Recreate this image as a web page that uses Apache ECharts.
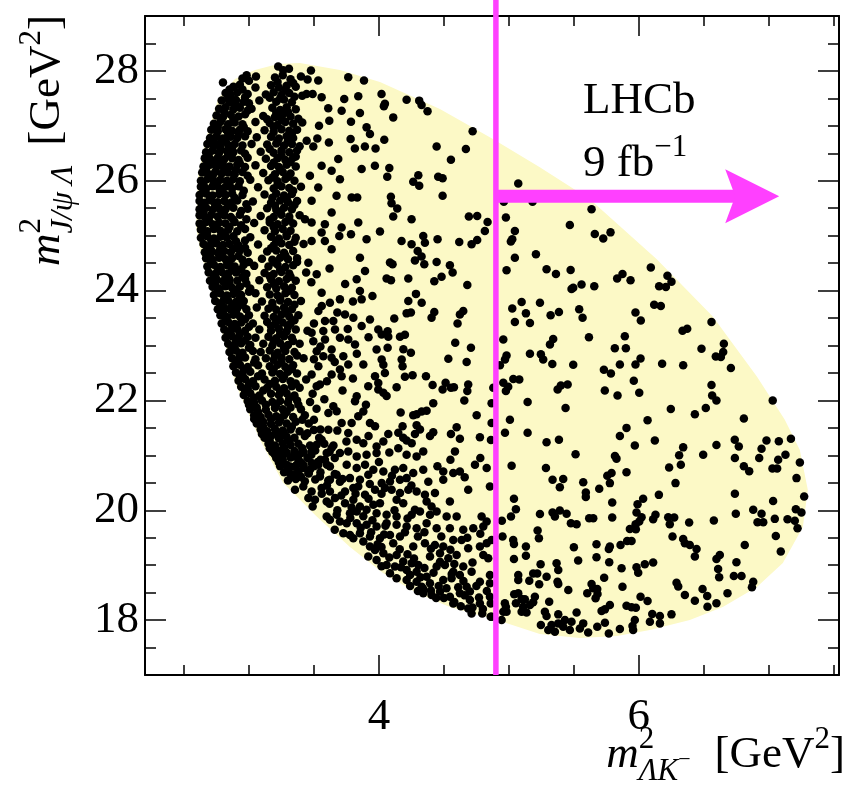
<!DOCTYPE html>
<html><head><meta charset="utf-8">
<script src="https://cdn.jsdelivr.net/npm/echarts@6/dist/echarts.min.js"></script>
<style>html,body{margin:0;padding:0;background:#fff}#main{width:855px;height:800px}</style>
</head><body><div id="main"></div>
<script>
const xRange=[2.2,7.54], yRange=[17,29];
const xMajorTicks=[4,6];
const xMinorTicks=[2.5,3,3.5,4.5,5,5.5,6.5,7,7.5];
const yMajorTicks=[18,20,22,24,26,28];
const yMinorTicks=[17.5,18.5,19,19.5,20.5,21,21.5,22.5,23,23.5,24.5,25,25.5,26.5,27,27.5,28.5];
const cutX=4.9, arrowY=25.72, arrowTipX=7.08;

const boundary=[[2.892,27.854],[3.046,28.018],[3.223,28.128],[3.392,28.146],[3.700,28.018],[4.008,27.799],[4.469,27.307],[4.877,26.759],[5.238,26.248],[5.623,25.664],[6.138,24.569],[6.569,23.529],[6.908,22.434],[7.123,21.650],[7.238,21.102],[7.300,20.372],[7.262,19.697],[7.108,19.040],[6.908,18.602],[6.646,18.237],[6.392,18.000],[6.085,17.818],[5.831,17.708],[5.546,17.672],[5.238,17.745],[4.908,18.000],[4.546,18.237],[4.292,18.493],[4.031,18.858],[3.777,19.332],[3.523,19.880],[3.262,20.500],[3.085,21.285],[2.892,22.325],[2.762,23.529],[2.623,24.752],[2.592,25.172],[2.608,26.084],[2.662,26.704],[2.762,27.489]];

const bandPts=[
[3.225,28.08],[3.264,28.01],[3.308,28.04],[2.982,27.92],[3.054,27.90],
[2.95,27.86],[3.00,27.82],[3.20,27.88],[3.26,27.92],[3.32,27.85],[3.40,27.90],
[2.88,27.71],[2.93,27.75],[3.05,27.70],[3.17,27.74],[3.23,27.70],[3.29,27.73],[3.36,27.71],
[2.82,27.60],[2.86,27.56],[2.91,27.61],[2.99,27.58],[3.13,27.57],[3.19,27.61],[3.25,27.56],[3.31,27.60],[3.41,27.55],
[2.79,27.46],[2.85,27.43],[2.90,27.47],[2.96,27.44],[3.08,27.46],[3.21,27.44],[3.27,27.48],[3.33,27.43],
[2.77,27.31],[2.82,27.34],[2.88,27.30],[2.93,27.33],[3.02,27.31],[3.18,27.33],[3.24,27.29],[3.29,27.34],[3.36,27.30],
[2.75,27.19],[2.80,27.16],[2.86,27.20],[2.92,27.17],[2.97,27.21],[3.11,27.18],[3.20,27.16],[3.26,27.20],[3.32,27.17],
[2.73,27.04],[2.78,27.07],[2.84,27.03],[2.89,27.06],[2.95,27.03],[3.05,27.07],[3.16,27.05],[3.22,27.02],[3.28,27.07],[3.34,27.04],[3.41,27.06],
[2.71,26.93],[2.76,26.90],[2.82,26.94],[2.87,26.91],[2.93,26.93],[2.99,26.90],[3.12,26.92],[3.19,26.89],[3.25,26.94],[3.31,26.91],[3.37,26.93],
[2.70,26.78],[2.75,26.81],[2.80,26.77],[2.86,26.80],[2.91,26.78],[2.97,26.81],[3.06,26.79],[3.17,26.80],[3.23,26.77],[3.29,26.81],[3.34,26.78],
[2.68,26.67],[2.73,26.64],[2.78,26.68],[2.84,26.65],[2.89,26.67],[2.95,26.64],[3.02,26.67],[3.14,26.66],[3.21,26.68],[3.27,26.64],[3.33,26.67],[3.39,26.63],
[2.67,26.52],[2.72,26.55],[2.77,26.51],[2.83,26.54],[2.88,26.52],[2.94,26.55],[3.09,26.53],[3.19,26.51],[3.25,26.55],[3.31,26.52],[3.37,26.55],
[2.66,26.41],[2.71,26.38],[2.76,26.42],[2.81,26.39],[2.87,26.41],[2.92,26.38],[2.99,26.42],[3.13,26.40],[3.22,26.41],[3.28,26.38],[3.34,26.42],
[2.65,26.26],[2.70,26.29],[2.75,26.25],[2.80,26.28],[2.85,26.26],[2.91,26.29],[2.97,26.25],[3.05,26.28],[3.17,26.27],[3.23,26.25],[3.29,26.29],[3.36,26.26],
[2.64,26.15],[2.69,26.12],[2.74,26.16],[2.79,26.13],[2.84,26.15],[2.89,26.12],[2.95,26.16],[3.11,26.14],[3.20,26.12],[3.26,26.16],[3.32,26.13],
[2.63,26.00],[2.68,26.03],[2.73,25.99],[2.78,26.02],[2.83,26.00],[2.88,26.03],[2.93,25.99],[3.01,26.02],[3.15,26.01],[3.22,25.99],[3.28,26.03],[3.35,26.00],
[2.63,25.89],[2.67,25.86],[2.72,25.90],[2.77,25.87],[2.82,25.89],[2.87,25.86],[2.92,25.90],[3.07,25.88],[3.19,25.86],[3.25,25.90],[3.31,25.87],[3.40,25.89],
[2.62,25.74],[2.67,25.77],[2.72,25.73],[2.77,25.76],[2.82,25.74],[2.87,25.77],[2.95,25.74],[3.12,25.75],[3.21,25.77],[3.27,25.73],[3.33,25.76],
[2.62,25.63],[2.66,25.60],[2.71,25.64],[2.76,25.61],[2.81,25.63],[2.86,25.60],[2.91,25.64],[3.03,25.62],[3.17,25.60],[3.24,25.64],[3.30,25.61],[3.37,25.63],
[2.62,25.48],[2.67,25.51],[2.72,25.47],[2.77,25.50],[2.82,25.48],[2.88,25.51],[2.99,25.49],[3.14,25.50],[3.21,25.47],[3.27,25.51],[3.33,25.48],
[2.62,25.37],[2.66,25.34],[2.71,25.38],[2.76,25.35],[2.81,25.37],[2.86,25.34],[2.93,25.38],[3.09,25.36],[3.19,25.34],[3.25,25.38],[3.31,25.35],[3.39,25.37],
[2.62,25.22],[2.67,25.25],[2.72,25.21],[2.77,25.24],[2.82,25.22],[2.89,25.25],[3.04,25.23],[3.16,25.24],[3.22,25.21],[3.28,25.25],[3.34,25.22],
[2.63,25.11],[2.68,25.08],[2.73,25.12],[2.78,25.09],[2.84,25.11],[2.91,25.08],[2.97,25.12],[3.12,25.10],[3.20,25.08],[3.26,25.12],[3.32,25.09],
[2.63,24.96],[2.68,24.99],[2.73,24.95],[2.78,24.98],[2.83,24.96],[2.88,24.99],[3.01,24.97],[3.17,24.98],[3.23,24.95],[3.29,24.99],[3.36,24.96],
[2.65,24.85],[2.70,24.82],[2.75,24.86],[2.80,24.83],[2.85,24.85],[2.92,24.82],[3.07,24.84],[3.19,24.82],[3.25,24.86],[3.31,24.83],[3.42,24.85],
[2.66,24.70],[2.71,24.73],[2.76,24.69],[2.81,24.72],[2.86,24.70],[2.93,24.73],[2.99,24.69],[3.14,24.71],[3.21,24.73],[3.27,24.69],[3.34,24.72],
[2.67,24.59],[2.72,24.56],[2.77,24.60],[2.82,24.57],[2.87,24.59],[2.95,24.56],[3.10,24.58],[3.18,24.56],[3.24,24.60],[3.30,24.57],[3.37,24.59],
[2.68,24.44],[2.73,24.47],[2.78,24.43],[2.83,24.46],[2.89,24.44],[2.96,24.47],[3.04,24.45],[3.15,24.44],[3.22,24.47],[3.28,24.43],[3.34,24.46],
[2.69,24.33],[2.74,24.30],[2.79,24.34],[2.84,24.31],[2.90,24.33],[2.98,24.30],[3.12,24.32],[3.19,24.30],[3.25,24.34],[3.31,24.31],[3.44,24.33],
[2.70,24.18],[2.75,24.21],[2.80,24.17],[2.85,24.20],[2.91,24.18],[2.97,24.21],[3.08,24.19],[3.17,24.20],[3.23,24.17],[3.29,24.21],[3.36,24.18],
[2.72,24.07],[2.77,24.04],[2.82,24.08],[2.87,24.05],[2.93,24.07],[3.01,24.04],[3.14,24.06],[3.21,24.04],[3.27,24.08],[3.33,24.05],
[2.73,23.92],[2.78,23.95],[2.83,23.91],[2.88,23.94],[2.94,23.92],[3.05,23.95],[3.16,23.93],[3.22,23.91],[3.28,23.95],[3.35,23.92],
[2.74,23.81],[2.79,23.78],[2.84,23.82],[2.90,23.79],[2.96,23.81],[3.10,23.80],[3.18,23.78],[3.24,23.82],[3.30,23.79],[3.40,23.81],
[2.76,23.66],[2.81,23.69],[2.86,23.65],[2.91,23.68],[2.98,23.66],[3.06,23.69],[3.15,23.67],[3.21,23.65],[3.27,23.69],[3.33,23.66],
[2.78,23.55],[2.83,23.52],[2.88,23.56],[2.93,23.53],[3.00,23.55],[3.12,23.54],[3.19,23.52],[3.25,23.56],[3.31,23.53],[3.38,23.55],
[2.79,23.40],[2.84,23.43],[2.89,23.39],[2.94,23.42],[3.03,23.40],[3.14,23.43],[3.20,23.39],[3.26,23.42],[3.32,23.40],
[2.81,23.29],[2.86,23.26],[2.91,23.30],[2.97,23.27],[3.08,23.29],[3.17,23.27],[3.23,23.30],[3.29,23.26],[3.36,23.29],[3.45,23.27],
[2.82,23.14],[2.87,23.17],[2.92,23.13],[2.99,23.16],[3.05,23.14],[3.15,23.16],[3.21,23.13],[3.27,23.17],[3.33,23.14],
[2.84,23.03],[2.89,23.00],[2.94,23.04],[3.01,23.01],[3.11,23.03],[3.18,23.00],[3.24,23.04],[3.30,23.01],[3.39,23.03],
[2.85,22.88],[2.90,22.91],[2.95,22.87],[3.03,22.90],[3.09,22.88],[3.16,22.91],[3.22,22.87],[3.28,22.90],[3.35,22.88],
[2.87,22.77],[2.92,22.74],[2.97,22.78],[3.05,22.75],[3.13,22.77],[3.19,22.74],[3.25,22.78],[3.31,22.75],[3.42,22.77],
[2.88,22.62],[2.93,22.65],[2.99,22.61],[3.07,22.64],[3.16,22.62],[3.22,22.65],[3.28,22.61],[3.34,22.64],
[2.90,22.51],[2.95,22.48],[3.01,22.52],[3.10,22.49],[3.18,22.51],[3.24,22.48],[3.30,22.52],[3.37,22.49],
[2.92,22.36],[2.97,22.39],[3.03,22.35],[3.12,22.38],[3.20,22.36],[3.26,22.39],[3.32,22.35],[3.44,22.38],
[2.94,22.25],[2.99,22.22],[3.05,22.26],[3.14,22.23],[3.21,22.25],[3.27,22.22],[3.33,22.26],[3.39,22.23],
[2.96,22.10],[3.01,22.13],[3.08,22.09],[3.17,22.12],[3.23,22.10],[3.29,22.13],[3.35,22.09],
[2.99,21.99],[3.04,21.96],[3.10,22.00],[3.18,21.97],[3.24,21.99],[3.30,21.96],[3.37,22.00],[3.47,21.97],
[3.01,21.84],[3.06,21.87],[3.13,21.83],[3.20,21.86],[3.26,21.84],[3.32,21.87],[3.40,21.84],
[3.04,21.73],[3.09,21.70],[3.15,21.74],[3.21,21.71],[3.27,21.73],[3.34,21.70],[3.43,21.73],
[3.06,21.58],[3.11,21.61],[3.17,21.57],[3.23,21.60],[3.29,21.58],[3.36,21.61],[3.46,21.58],
[3.09,21.47],[3.14,21.44],[3.20,21.48],[3.26,21.45],[3.32,21.47],[3.39,21.44],[3.50,21.46],
[3.12,21.32],[3.17,21.35],[3.23,21.31],[3.29,21.34],[3.35,21.32],[3.43,21.35],[3.54,21.32],
[3.15,21.21],[3.20,21.18],[3.26,21.22],[3.32,21.19],[3.38,21.21],[3.47,21.18],[3.58,21.21],
[3.18,21.06],[3.23,21.09],[3.29,21.05],[3.35,21.08],[3.42,21.06],[3.51,21.09],[3.62,21.06],
[3.21,20.95],[3.26,20.92],[3.32,20.96],[3.38,20.93],[3.45,20.95],[3.55,20.92],[3.66,20.95],
[3.24,20.80],[3.29,20.83],[3.35,20.79],[3.42,20.82],[3.50,20.80],[3.60,20.83],
[3.27,20.69],[3.32,20.66],[3.38,20.70],[3.46,20.67],[3.55,20.69],[3.66,20.66],
[3.30,20.54],[3.36,20.57],[3.43,20.53],[3.51,20.56],[3.61,20.54],[3.72,20.57]
];

const leftBandExtra=[
[2.80,27.79],[2.85,27.66],[2.95,27.66],[2.84,27.50],[2.97,27.52],[2.81,27.25],[2.90,27.39],[3.00,27.41],[2.79,27.12],[2.88,27.11],[2.99,27.28],[2.76,26.98],[2.84,26.86],[2.96,26.98],[2.73,26.72],[2.82,26.72],[2.92,26.85],[2.69,26.47],[2.78,26.59],[2.87,26.58],[2.97,26.49],[2.68,26.34],[2.76,26.33],[2.84,26.47],[2.93,26.32],[2.67,26.20],[2.72,26.08],[2.81,26.21],[2.90,26.20],[2.99,26.09],[2.65,25.94],[2.75,25.94],[2.85,25.95],[2.96,25.82],[2.65,25.80],[2.70,25.68],[2.79,25.81],[2.89,25.69],[2.98,25.57],[2.64,25.55],[2.74,25.56],[2.84,25.55],[2.94,25.45],[2.65,25.42],[2.69,25.30],[2.79,25.43],[2.88,25.29],[2.98,25.30],[2.64,25.17],[2.75,25.17],[2.85,25.16],[2.94,25.19],[2.66,25.03],[2.71,24.91],[2.81,25.03],[2.90,24.90],[2.97,24.91],[2.68,24.78],[2.78,24.77],[2.88,24.76],[2.97,24.78],[2.70,24.64],[2.79,24.65],[2.85,24.52],[2.92,24.63],[3.00,24.52],[2.71,24.51],[2.76,24.38],[2.87,24.38],[2.94,24.39],[2.73,24.25],[2.82,24.25],[2.95,24.25],[2.74,24.12],[2.85,24.12],[2.90,24.00],[2.98,24.13],[2.76,23.99],[2.81,23.86],[2.93,23.86],[3.00,23.98],[2.78,23.73],[2.87,23.72],[2.95,23.74],[2.80,23.60],[2.90,23.61],[2.97,23.48],[2.82,23.47],[2.87,23.35],[2.93,23.21],[3.00,23.34],[2.84,23.22],[2.90,23.08],[2.97,23.09],[2.87,22.96],[2.93,22.82],[3.00,22.96],[2.90,22.69],[2.96,22.56],[3.04,22.69],[2.93,22.43],[3.00,22.30],[3.07,22.44],[2.97,22.18],[3.04,22.05],[3.11,22.18],[3.00,21.92],[3.07,21.79],[3.13,21.92],[3.04,21.66],[3.11,21.52],[3.17,21.66],[3.10,21.39],[3.16,21.26],[3.21,21.40],[3.16,21.13],[3.21,21.00],[3.27,21.14],[3.23,20.87],[3.30,20.74],[3.33,20.61]
];

const midBandExtra=[
[3.22,27.80],[3.34,27.78],[3.28,27.65],[3.16,27.51],[3.24,27.50],[3.35,27.53],[3.21,27.24],[3.30,27.25],[3.14,27.12],[3.25,27.11],[3.38,27.13],[3.19,26.98],[3.33,26.86],[3.22,26.72],[3.30,26.73],[3.16,26.58],[3.36,26.44],[3.25,26.46],[3.19,26.33],[3.32,26.34],[3.24,26.21],[3.18,26.06],[3.30,26.07],[3.22,25.93],[3.34,25.82],[3.18,25.69],[3.29,25.68],[3.20,25.55],[3.35,25.56],[3.24,25.42],[3.16,25.29],[3.31,25.29],[3.19,25.16],[3.29,25.02],[3.21,24.90],[3.35,24.89],[3.17,24.77],[3.28,24.64],[3.20,24.51],[3.37,24.52],[3.24,24.38],[3.16,24.26],[3.32,24.25],[3.19,24.12],[3.30,23.99],[3.24,23.86],[3.35,23.74],[3.18,23.72],[3.28,23.60],[3.22,23.47],[3.35,23.46],[3.17,23.35],[3.30,23.34],[3.24,23.21],[3.19,23.08],[3.34,23.08],[3.27,22.95],[3.20,22.82],[3.37,22.82],[3.25,22.69],[3.19,22.56],[3.33,22.57],[3.27,22.44],[3.16,22.30],[3.36,22.31],[3.24,22.17],[3.31,22.04],[3.21,21.92],[3.38,21.92],[3.29,21.79],[3.24,21.66],[3.41,21.65],[3.33,21.52],[3.27,21.39],[3.45,21.40],[3.31,21.26],[3.41,21.13],[3.36,21.00],[3.48,21.01],[3.40,20.87],[3.47,20.74],[3.40,20.61]
];

const arcPts=[
[3.200,21.011],[3.264,21.011],[3.341,20.981],[3.405,21.042],[3.482,21.072],[3.598,21.042],[3.700,21.042],[3.764,21.072],[3.829,20.981],[3.905,21.011],[3.982,21.042],[4.213,21.011],[4.290,20.981],[4.341,21.072],[4.585,21.072],
[3.316,20.798],[3.367,20.829],[3.418,20.768],[3.482,20.859],[3.534,20.829],[3.585,20.920],[3.623,20.798],[3.752,20.829],[3.829,20.768],[3.893,20.829],[3.957,20.738],[4.034,20.707],[4.123,20.738],[4.187,20.768],[4.264,20.677],[4.341,20.738],[4.495,20.707],[4.572,20.677],[4.623,20.707],[4.739,20.829],[4.829,20.768],
[3.341,20.646],[3.393,20.616],[3.457,20.677],[3.546,20.616],[3.623,20.555],[3.675,20.646],[3.777,20.585],[3.854,20.555],[3.918,20.646],[4.021,20.494],[4.085,20.525],[4.162,20.555],[4.213,20.585],[4.495,20.555],[4.687,20.373],[4.854,20.433],
[3.354,20.373],[3.418,20.433],[3.482,20.342],[3.559,20.403],[3.623,20.342],[3.739,20.342],[3.803,20.403],[3.841,20.433],[3.893,20.281],[3.970,20.373],[4.046,20.403],[4.098,20.373],[4.162,20.312],[4.226,20.373],[4.290,20.342],[4.354,20.281],[4.431,20.312],[4.546,20.160],
[3.457,20.221],[3.508,20.190],[3.598,20.160],[3.662,20.221],[3.739,20.129],[3.803,20.190],[3.854,20.068],[3.957,20.099],[4.008,20.129],[4.136,20.190],[4.187,20.129],[4.277,20.008],[4.367,20.160],[4.405,20.068],
[3.490,20.068],[3.598,19.886],[3.675,19.916],[3.777,19.947],[3.829,19.977],[3.905,20.008],[3.982,19.947],[4.059,19.916],[4.136,19.886],[4.252,19.916],[4.316,19.977],[4.393,19.916],[4.444,19.977],[4.521,19.886],[4.598,19.886],[4.790,19.886],[4.829,19.795],
[3.623,19.825],[3.700,19.795],[3.752,19.764],[3.829,19.764],[3.905,19.734],[3.982,19.703],[4.059,19.764],[4.136,19.734],[4.213,19.703],[4.290,19.673],[4.367,19.764],[4.444,19.673],[4.546,19.673],[4.649,19.643],[4.726,19.673],[4.803,19.703],
[3.660,19.643],[3.726,19.582],[3.777,19.551],[3.854,19.582],[3.931,19.521],[4.008,19.491],[4.085,19.551],[4.162,19.521],[4.264,19.339],[4.354,19.399],[4.431,19.369],[4.495,19.339],[4.572,19.460],[4.636,19.460],[4.777,19.339],[4.829,19.399],[4.867,19.460],
[3.803,19.491],[3.880,19.430],[3.931,19.339],[3.970,19.278],[4.034,19.217],[4.136,19.186],[4.187,19.065],[4.252,19.034],[4.303,19.004],[4.393,19.156],[4.470,19.217],[4.534,19.126],[4.598,19.186],[4.687,19.308],[4.803,19.186],[4.841,19.126],
[3.918,19.156],[3.982,19.095],[4.059,19.004],[4.123,18.974],[4.213,18.913],[4.290,18.882],[4.367,18.791],[4.444,18.974],[4.508,19.004],[4.572,18.882],[4.649,18.974],[4.713,18.882],[4.854,18.821],
[4.020,18.980],[4.085,18.852],[4.136,18.761],[4.213,18.730],[4.290,18.700],[4.329,18.609],[4.393,18.669],[4.495,18.730],[4.559,18.761],[4.623,18.821],[4.675,18.609],[4.777,18.700],[4.854,18.669],
[4.240,18.620],[4.300,18.530],[4.341,18.487],[4.405,18.457],[4.470,18.517],[4.546,18.426],[4.623,18.487],[4.700,18.365],[4.777,18.304],[4.854,18.426],
[4.440,18.400],[4.572,18.304],[4.687,18.213],[4.713,18.122],[4.795,18.122],[4.860,18.060]
];

const arcExtra=[
[3.56,20.30],[3.62,20.12],[3.68,20.00],[3.71,20.27],[3.78,19.86],[3.79,20.05],[3.86,19.68],[3.88,19.89],[3.94,19.60],[3.95,19.82],[3.99,19.38],[4.04,19.56],[4.02,19.33],[4.08,19.14],[4.11,19.40],[4.16,19.29],[4.17,18.96],[4.22,19.20],[4.24,18.82],[4.27,19.12],[4.32,18.78],[4.35,18.95],[4.34,18.57],[4.40,18.54],[4.42,18.86],[4.46,18.62],[4.50,18.40],[4.52,18.58],[4.56,18.84],[4.58,18.33],[4.61,18.60],[4.63,18.25],[4.66,18.45],[4.70,18.52],[4.72,18.23],[4.75,18.62],[4.77,18.41],[4.80,18.20],[4.83,18.53],[4.86,18.30],[4.47,19.06],[4.40,19.30],[4.58,19.02],[4.65,18.71],[4.72,19.05],[4.30,19.52],[4.20,19.60],[4.05,19.72],[3.92,20.21],[4.02,20.30],[4.12,20.00],[4.22,19.85],[4.35,19.60],[4.48,19.52],[4.55,19.28],[4.68,19.50],[4.78,19.57],[3.60,20.45],[3.70,20.52],[3.82,20.30],[3.93,20.48],[4.00,20.88],[4.10,20.63],[4.25,20.45],[4.38,20.52],[4.45,20.80],[4.55,20.92],[4.66,20.60],[4.78,20.95],[3.53,20.88],[3.65,21.18],[3.88,21.22],[4.08,21.05]
];

const midLeftPts=[
[3.854,24.600],[3.893,24.357],[3.829,24.205],[3.854,23.992],[3.867,23.840],[3.700,23.840],[3.623,23.779],[3.457,24.509],[3.521,24.296],[3.559,23.961],[3.534,23.627],[3.585,23.444],[3.649,23.444],[3.739,23.566],[3.803,23.505],[3.931,23.475],[3.995,23.292],[3.867,23.353],[3.662,23.292],[3.572,23.262],[3.482,23.231],[3.495,23.079],[3.585,23.110],[3.700,23.140],[3.764,23.110],[3.816,23.018],[3.982,22.927],[3.636,22.927],[3.572,22.806],[3.521,22.897],[3.636,22.775],[3.726,22.806],[3.764,22.654],[3.880,22.654],[3.700,22.562],[3.636,22.471],[3.713,22.441],[3.534,22.623],[3.482,22.471],[3.521,22.258],[3.546,22.289],[3.918,22.258],[3.970,22.441],[3.995,22.319],[3.829,22.076],[3.816,21.984],[3.995,22.197],[3.649,21.893],[3.611,21.772],[3.675,21.802],[3.713,21.589],[3.790,21.589],[3.841,21.711],[3.764,21.406],[3.829,21.285],[3.931,21.589],[3.970,21.528],[3.611,21.467],[3.559,21.285],[3.521,21.194],[3.982,21.163],[3.636,21.133],
[3.48,24.15],[3.62,24.40],[3.74,24.12],[3.56,23.72],[3.68,23.60],[3.80,23.80],[3.95,23.90],[3.50,23.40],[3.76,23.30],[3.92,23.15],[3.55,22.98],[3.66,22.70],[3.83,22.85],[3.50,22.75],[3.60,22.35],[3.80,22.40],[3.49,22.12],[3.58,22.02],[3.72,22.18],[3.90,21.92],[3.52,21.85],[3.68,21.45],[3.88,21.80],[3.50,21.65],[3.55,21.47],[3.75,21.25],[3.92,21.35]
];

const topLeftPts=[
[3.477,28.006],[3.764,27.884],[3.885,27.824],[3.841,27.538],[3.451,27.842],[3.533,27.824],[3.443,27.580],[3.490,27.580],[3.559,27.520],[3.610,27.320],[3.733,27.489],[3.713,27.276],[3.854,27.234],[3.931,26.850],[3.905,26.972],[3.785,27.075],[3.782,26.759],[3.892,26.625],[3.974,26.589],[3.815,26.589],[3.618,27.094],[3.615,26.698],[3.526,26.771],[3.539,27.003],[3.444,26.729],[3.495,26.625],[3.559,26.272],[3.687,26.394],[3.636,26.181],[3.700,26.029],[3.867,26.212],[3.969,26.272],[3.533,25.877],[3.469,26.090],[3.482,25.634],[3.674,25.725],[3.790,25.695],[3.833,25.695],[3.636,25.420],[3.841,25.240],[3.905,24.934],[3.785,25.026],[3.713,25.147],[3.695,24.995],[3.584,25.208],[3.559,25.056],[3.482,25.239],[3.431,25.300],[3.482,24.904],[3.584,24.904],[3.636,24.752]
];

const topMidPts=[
[4.020,27.580],[4.046,27.400],[4.038,27.355],[4.213,27.477],[4.310,27.459],[4.328,27.380],[4.374,27.264],[4.110,27.154],[4.721,26.900],[4.041,26.747],[4.444,26.625],[4.669,26.577],[4.554,26.382],[4.080,26.230],[4.064,26.072],[4.264,25.980],[4.303,26.102],[4.310,25.908],[4.456,26.072],[4.490,26.047],[4.490,25.725],[4.092,25.707],[4.097,25.591],[4.141,25.494],[4.110,25.348],[4.251,25.300],[4.692,25.348],[4.756,25.360],[4.836,25.250],[4.815,25.086],[4.008,25.074],[5.072,25.950],[4.961,25.616],[5.182,25.616],[4.977,25.330],[5.469,25.196],[5.046,25.086],[5.026,24.934],[5.015,24.892],[4.174,24.904],[4.251,24.843],[4.341,24.995],[4.354,24.873],[4.451,24.934],[4.618,24.886],[4.713,24.843],[4.756,24.922]
];

const centerPts=[
[4.298,24.72],[4.085,24.51],[4.105,24.48],[4.277,24.55],[4.328,24.62],[4.349,24.48],[4.444,24.52],[4.546,24.46],[4.567,24.33],[4.059,24.22],[4.093,24.19],[4.226,24.22],[4.426,24.17],[4.482,24.25],[4.680,24.10],[4.285,23.94],[4.226,23.81],[4.329,23.78],[4.213,23.585],[4.246,23.60],[4.426,23.61],[4.405,23.505],[4.649,23.63],[4.623,23.565],[4.605,23.40],[4.118,23.49],[4.067,23.26],[4.021,23.20],[4.072,23.16],[4.162,23.16],[4.200,23.195],[4.067,22.96],[4.188,22.93],[4.246,22.87],[4.587,23.05],[4.708,22.96],[4.534,22.76],[4.675,22.70],[4.021,22.745],[4.034,22.65],[4.175,22.745],[4.182,22.62],[4.046,22.50],[4.200,22.43],[4.259,22.46],[4.362,22.44],[4.059,22.08],[4.034,22.14],[4.136,22.24],[4.413,22.28],[4.513,22.32],[4.490,22.20],[4.554,22.23],[4.577,22.24],[4.687,22.29],[4.680,22.17],[4.880,22.23],[4.657,22.00],[4.418,21.95],[4.867,21.95],[4.167,21.78],[4.264,21.73],[4.290,21.75],[4.329,21.80],[4.367,21.81],[4.752,21.73],[4.867,21.59],[4.182,21.53],[4.290,21.55],[4.316,21.47],[4.072,21.39],[4.149,21.41],[4.187,21.32],[4.213,21.27],[4.277,21.39],[4.418,21.42],[4.393,21.35],[4.554,21.39],[4.598,21.51],[4.623,21.30],[4.777,21.33],[4.862,21.28],[4.149,21.13],[4.034,21.25],[4.252,21.22],
[5.046,24.60],[5.208,24.66],[4.982,24.37],[5.290,24.39],[5.362,24.30],[5.475,24.375],[5.495,24.05],[5.559,24.11],[5.657,24.08],[5.482,24.03],[5.098,23.79],[5.026,23.675],[5.131,23.585],[5.046,23.43],[5.162,23.41],[5.239,23.78],[5.321,23.55],[5.385,23.61],[5.541,23.66],[5.567,23.505],[5.616,23.15],[4.957,23.11],[5.341,23.12],[5.316,23.02],[4.982,22.82],[4.970,22.745],[4.931,22.64],[5.162,22.85],[5.246,22.84],[5.264,22.745],[5.334,22.665],[5.495,22.65],[5.034,22.39],[5.080,22.38],[4.957,22.32],[4.995,22.25],[4.977,22.17],[5.400,22.27],[5.375,22.20],[5.452,22.29],[5.144,21.97],[5.436,21.86],[5.008,21.65],[4.970,21.41],[5.144,21.41],[5.290,21.24],[5.385,21.285]
];

const rightPts=[
[5.636,25.48],[5.661,25.03],[5.726,24.95],[5.782,25.06],[6.092,24.42],[5.833,24.22],[5.874,24.30],[5.936,24.19],[6.220,24.27],[6.251,24.16],[6.156,24.08],[6.208,24.065],[6.118,23.74],[6.169,23.72],[5.974,23.60],[6.015,23.457],[6.559,23.43],[6.336,23.27],[6.372,23.305],[5.892,23.17],[5.815,22.95],[5.900,22.95],[6.013,22.763],[5.974,22.654],[5.854,22.654],[6.179,22.666],[6.341,22.64],[6.482,22.94],[6.592,22.80],[6.631,22.79],[6.654,23.03],[6.649,22.88],[6.708,22.59],[5.731,22.56],[5.785,22.49],[5.961,22.36],[5.738,22.18],[5.836,22.09],[6.003,22.14],[6.559,22.28],[6.564,22.09],[6.597,21.997],[6.246,21.845],[6.431,21.75],[6.515,21.86],[7.030,22.00],[6.808,21.67],[6.067,21.64],[5.905,21.50],[5.854,21.35],[6.123,21.27],[5.969,21.18],[6.341,21.145],[6.597,21.19],[6.738,21.285],[6.769,21.16],[6.944,21.12],[6.982,21.27],[7.077,21.255],[7.170,21.30]
];

const bottomRightPts=[
[5.513,21.02],[5.816,20.99],[5.828,20.94],[6.310,21.00],[6.323,20.83],[6.233,20.78],[6.495,21.01],[6.739,20.95],[6.926,20.95],[7.072,20.92],[7.128,21.01],[7.239,20.87],[6.808,20.80],[6.849,20.71],[7.028,20.76],[7.064,20.76],[5.021,20.81],[5.285,20.77],[5.905,20.69],[5.790,20.68],[5.757,20.63],[5.777,20.494],[5.336,20.555],[5.418,20.567],[5.392,20.42],[5.572,20.51],[5.592,20.324],[5.592,20.24],[5.695,20.39],[6.282,20.494],[7.213,20.585],[6.739,20.30],[6.154,20.28],[6.033,20.21],[5.990,20.11],[5.795,20.14],[5.039,20.21],[5.054,20.02],[5.016,19.886],[5.239,19.93],[5.336,19.96],[5.354,19.886],[5.392,19.995],[5.444,19.935],[5.477,19.764],[5.521,19.746],[5.618,19.855],[5.649,19.855],[5.795,19.87],[5.982,19.96],[6.021,19.874],[6.003,19.795],[5.975,19.746],[5.931,19.66],[5.977,19.655],[6.110,19.837],[6.128,19.916],[6.226,19.874],[6.272,19.868],[6.238,19.746],[6.387,19.777],[6.577,19.813],[6.880,20.007],[6.944,19.935],[6.913,19.783],[6.957,19.783],[7.046,19.843],[7.144,19.837],[7.200,19.807],[7.208,20.02],[7.251,19.96],[7.272,20.25],[7.033,20.17],[7.221,19.673],[7.054,19.533],[7.092,19.247],[6.815,19.369],[6.746,19.935],
[4.946,19.81],[5.221,19.63],[5.231,19.49],[4.951,19.52],[5.033,19.46],[5.039,19.387],[5.131,19.34],[5.131,19.17],[5.039,19.113],[6.259,19.52],[6.341,19.478],[6.354,19.399],[6.392,19.369],[6.444,19.296],[6.431,19.156],[6.623,19.186],[6.597,19.113],[6.751,19.053],[6.610,18.931],[6.618,18.779],[6.731,18.803],[6.790,18.803],[6.880,18.70],[6.870,18.60],[6.682,18.487],[6.490,18.566],[6.526,18.438],[6.597,18.305],[6.528,18.244],[6.431,18.353],[6.354,18.456],[6.290,18.68],[6.303,18.61],
[5.500,19.326],[5.674,19.381],[5.769,19.296],[5.777,19.338],[5.859,19.369],[5.910,19.442],[5.944,19.442],[5.533,19.083],[5.674,19.144],[5.772,19.053],[5.867,18.943],[5.982,18.961],[5.995,18.864],[6.046,19.016],[6.110,19.047],[5.244,19.016],[5.367,19.035],[5.380,18.913],[5.072,18.82],[5.072,18.73],[5.187,18.85],[5.218,18.85],[5.157,18.718],[5.233,18.651],[5.290,18.791],[5.374,18.70],[5.380,18.657],[5.733,18.773],[5.874,18.609],[5.636,18.657],[5.649,18.578],[5.680,18.566],[5.682,18.475],[5.603,18.487],[5.667,18.396],[5.457,18.548],
[5.041,18.469],[5.072,18.487],[5.098,18.384],[5.123,18.378],[5.054,18.305],[5.200,18.426],[5.187,18.323],[5.162,18.274],[5.110,18.244],[4.969,18.305],[4.977,18.244],[4.957,18.152],[4.982,18.152],[5.098,18.152],[5.136,18.14],[5.310,18.335],[5.277,18.152],[5.290,18.073],[5.380,18.104],[5.521,18.14],[5.713,18.165],[5.739,18.195],[5.777,18.274],[5.905,18.262],[5.944,18.232],[5.977,18.225],[6.013,18.426],[6.067,18.347],[6.103,18.11],[6.162,18.073],[6.251,18.104],[6.162,17.94],[6.085,17.97],[5.969,18.00],[5.951,17.891],[5.956,17.818],[5.854,17.836],[5.769,17.757],[5.739,17.952],[5.680,17.879],[5.610,17.775],[5.546,17.848],[5.572,17.94],[5.482,17.97],[5.431,18.00],[5.469,17.818],[5.418,17.879],[5.380,17.94],[5.328,17.909],[5.303,17.818],[5.246,17.909],[4.944,18.00],[4.867,18.06],[5.354,17.788]
];

const allPts=[].concat(bandPts,leftBandExtra,midBandExtra,arcPts,arcExtra,midLeftPts,topLeftPts,topMidPts,centerPts,rightPts,bottomRightPts);

const FONT='"Liberation Serif","Times New Roman",serif';
const BIG=45, SMALL=31;
const chart=echarts.init(document.getElementById('main'),null,{renderer:'canvas'});

function xAx(pos,vals,len,line){return {type:'value',position:pos,min:xRange[0],max:xRange[1],
  axisLine:{show:line,onZero:false,lineStyle:{color:'#000',width:2}},
  axisTick:{show:true,inside:true,length:len,customValues:vals,lineStyle:{color:'#000',width:1.5}},
  axisLabel:{show:false},splitLine:{show:false}};}
function yAx(pos,vals,len,line){return {type:'value',position:pos,min:yRange[0],max:yRange[1],
  axisLine:{show:line,onZero:false,lineStyle:{color:'#000',width:2}},
  axisTick:{show:true,inside:true,length:len,customValues:vals,lineStyle:{color:'#000',width:1.5}},
  axisLabel:{show:false},splitLine:{show:false}};}

const xMain=xAx('bottom',xMajorTicks,20,true);
xMain.axisLabel={show:true,customValues:xMajorTicks,margin:20,color:'#000',fontSize:BIG,fontFamily:FONT};
const yMain=yAx('left',yMajorTicks,21,true);
yMain.axisLabel={show:true,customValues:yMajorTicks,margin:6,color:'#000',fontSize:BIG,fontFamily:FONT};

chart.setOption({
  animation:false,
  grid:{left:145,right:16,top:16,bottom:125},
  xAxis:[xMain,xAx('bottom',xMinorTicks,10,false),xAx('top',xMajorTicks,20,true),xAx('top',xMinorTicks,10,false)],
  yAxis:[yMain,yAx('left',yMinorTicks,11,false),yAx('right',yMajorTicks,21,true),yAx('right',yMinorTicks,11,false)],
  series:[
    {type:'custom',silent:true,z:1,data:[[4,22]],
     renderItem:function(params,api){return {type:'polygon',shape:{points:boundary.map(function(p){return api.coord(p);})},style:{fill:'#fcf9c6'}};}},
    {type:'scatter',silent:true,z:3,data:allPts,symbol:'circle',symbolSize:8.5,itemStyle:{color:'#000',opacity:1}}
  ]
});

const mctx=document.createElement('canvas').getContext('2d');
function fontStr(p){return (p.it?'italic ':'')+p.s+'px '+FONT;}
function measure(t,f){mctx.font=f;return mctx.measureText(t).width;}
function layout(pieces){
  let x=0,pend=0;const els=[];
  pieces.forEach(function(p){
    const f=fontStr(p);const w=measure(p.t,f);
    els.push({type:'text',x:x+(p.dx||0),y:(p.dy||0)-0.34*p.s,z:100,
      style:{text:p.t,font:f,fill:'#000',textAlign:'left',textVerticalAlign:'middle',align:'left',verticalAlign:'middle'}});
    if(p.adv===false){pend=Math.max(pend,w);}else{x+=Math.max(w,pend)+(p.gap||0);pend=0;}
  });
  return {els:els,width:x};
}

const xTitle=layout([
  {t:'m',s:BIG,it:true},
  {t:'2',s:SMALL,dy:-20,adv:false},
  {t:'ΛK',s:SMALL,it:true,dy:12},
  {t:'−',s:22,dy:-2,gap:24},
  {t:'[GeV',s:BIG},{t:'2',s:SMALL,dy:-20},{t:']',s:BIG}
]);
const yTitle=layout([
  {t:'m',s:BIG,it:true},
  {t:'2',s:SMALL,dy:-20,adv:false},
  {t:'J/ψ Λ',s:SMALL,it:true,dy:12,gap:20},
  {t:'[GeV',s:BIG},{t:'2',s:SMALL,dy:-20},{t:']',s:BIG}
]);
const lhcb=layout([{t:'LHCb',s:BIG}]);
const lumi=layout([{t:'9 fb',s:BIG},{t:'−1',s:SMALL,dy:-21}]);

const pBot=chart.convertToPixel({xAxisIndex:0,yAxisIndex:0},[cutX,yRange[0]]);
const pA=chart.convertToPixel({xAxisIndex:0,yAxisIndex:0},[cutX,arrowY]);
const pT=chart.convertToPixel({xAxisIndex:0,yAxisIndex:0},[arrowTipX,arrowY]);
const MAG='#ff40ff';
const headL=54, headH=27, notch=44, shaft=13;

chart.setOption({graphic:[
  {type:'line',z:50,shape:{x1:pBot[0],y1:0,x2:pBot[0],y2:pBot[1]},style:{stroke:MAG,lineWidth:5.5}},
  {type:'rect',z:50,shape:{x:pA[0],y:pA[1]-shaft/2,width:pT[0]-notch-pA[0]+2,height:shaft},style:{fill:MAG}},
  {type:'polygon',z:50,shape:{points:[[pT[0],pT[1]],[pT[0]-headL,pT[1]-headH],[pT[0]-notch,pT[1]],[pT[0]-headL,pT[1]+headH]]},style:{fill:MAG}},
  {type:'group',x:845-xTitle.width,y:770,children:xTitle.els},
  {type:'group',x:62,y:15+yTitle.width,rotation:Math.PI/2,children:yTitle.els},
  {type:'group',x:583,y:116,children:lhcb.els},
  {type:'group',x:583,y:179,children:lumi.els}
]});
</script></body></html>
